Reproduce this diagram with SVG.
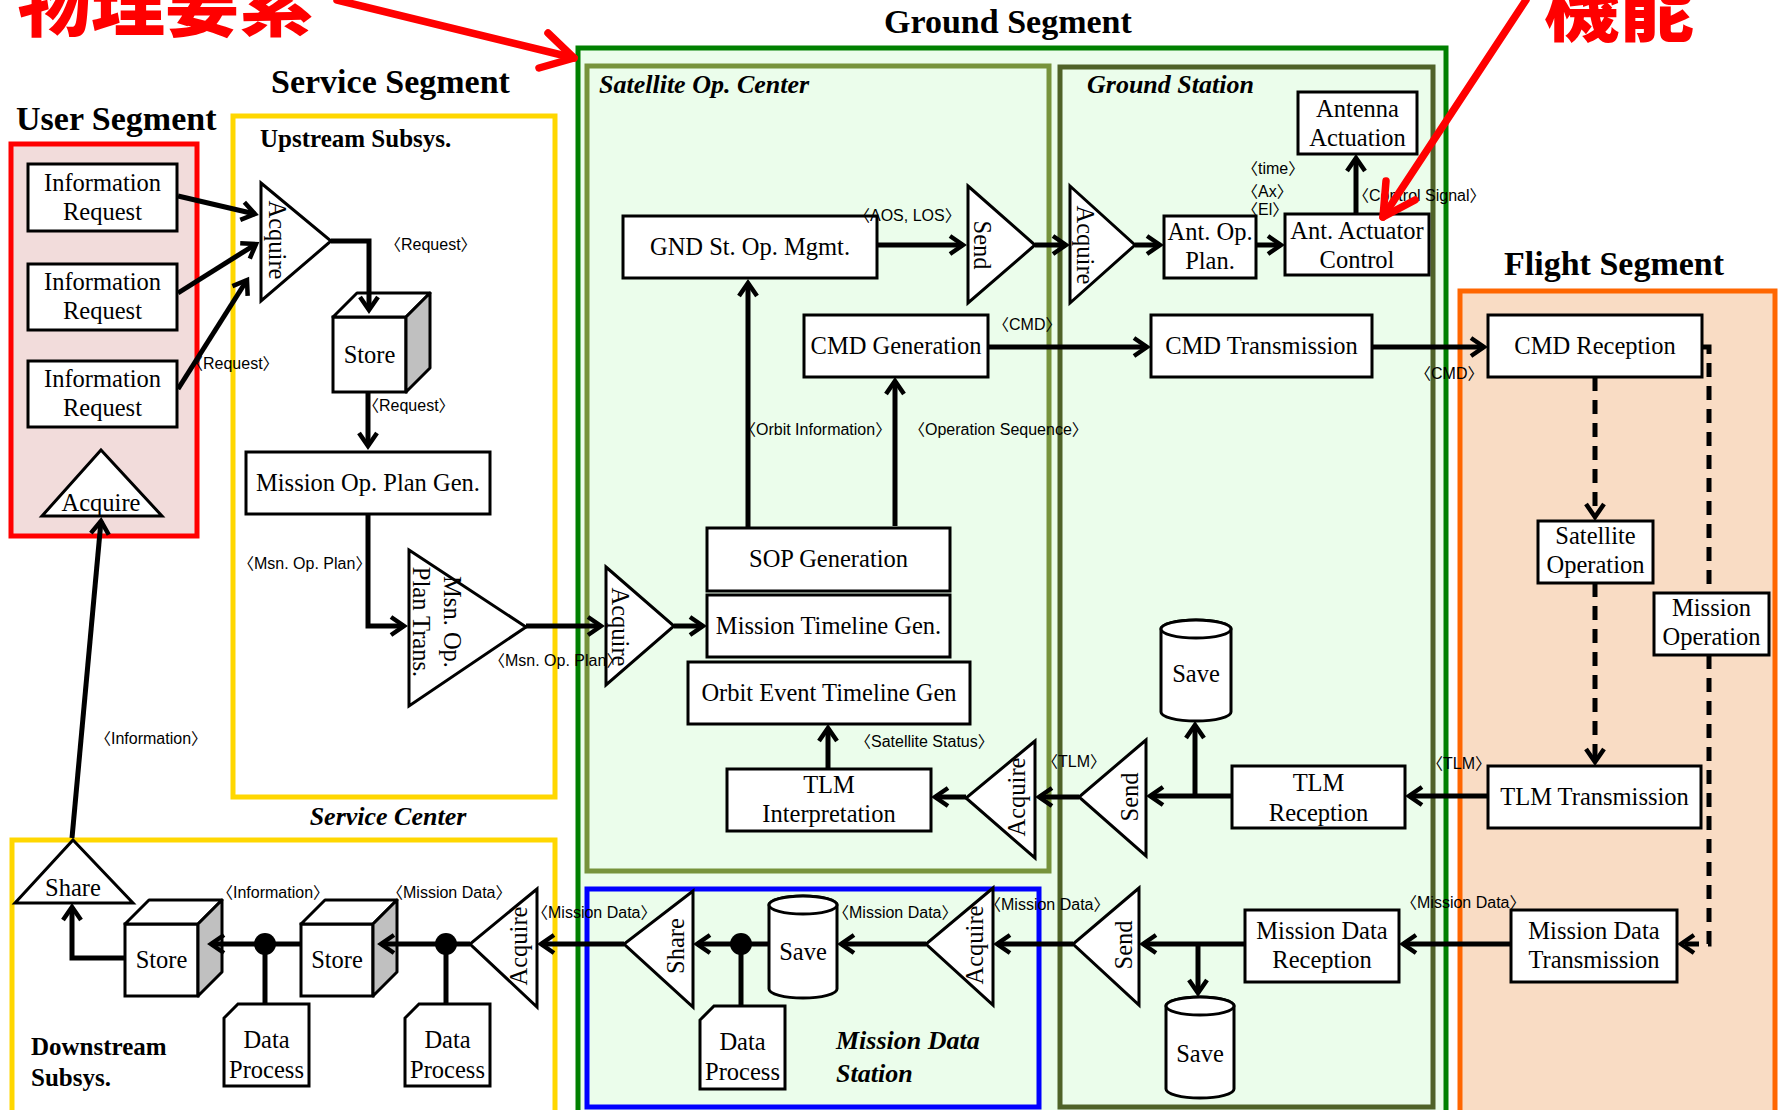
<svg xmlns="http://www.w3.org/2000/svg" width="1781" height="1110" viewBox="0 0 1781 1110">
<defs>
<style>
.bx{fill:#fff;stroke:#000;stroke-width:3}
.sd{fill:#c0c0c0;stroke:#000;stroke-width:3;stroke-linejoin:round}
.tp{fill:#fff;stroke:#000;stroke-width:3;stroke-linejoin:round}
.t{font-family:"Liberation Serif","Times New Roman",serif;font-size:24.5px;text-anchor:middle;fill:#000}
.l{font-family:"Liberation Sans",Arial,"Noto Sans CJK JP",sans-serif;font-size:16px;fill:#000}
.ttl{font-family:"Liberation Serif","Times New Roman",serif;font-weight:bold;font-size:34px;fill:#000}
.sub{font-family:"Liberation Serif","Times New Roman",serif;font-weight:bold;font-style:italic;font-size:26px;fill:#000}
.subb{font-family:"Liberation Serif","Times New Roman",serif;font-weight:bold;font-size:25px;fill:#000}
.c{fill:none;stroke:#000;stroke-width:5}
.a{marker-end:url(#ah)}
.d{stroke-dasharray:14 9}
.jp{font-family:"Noto Sans CJK JP",sans-serif;font-weight:900;fill:#f00}
.red{fill:none;stroke:#f00;stroke-width:7.5;stroke-linecap:round;stroke-linejoin:round}
.frame{stroke-width:5}
</style>
<marker id="ah" markerUnits="userSpaceOnUse" markerWidth="26" markerHeight="26" viewBox="0 0 26 26" refX="17" refY="13" orient="auto" overflow="visible">
<path d="M4,4 L17,13 L4,22" fill="none" stroke="#000" stroke-width="4.5" stroke-linejoin="miter"/>
</marker>
</defs>

<rect width="1781" height="1110" fill="#fff"/>

<!-- segment frames -->
<g id="ground-segment">
<rect class="frame" x="578" y="48" width="868" height="1075" fill="#ebfdeb" stroke="#008000"/>
<text class="ttl" x="884" y="33">Ground Segment</text>
</g>
<g id="satellite-op-center">
<rect class="frame" x="587" y="66" width="462" height="805" fill="none" stroke="#77933c"/>
<text class="sub" x="599" y="93">Satellite Op. Center</text>
</g>
<g id="ground-station">
<rect class="frame" x="1060" y="67" width="373" height="1040" fill="none" stroke="#4f6228"/>
<text class="sub" x="1087" y="93">Ground Station</text>
</g>
<g id="mission-data-station">
<rect class="frame" x="587" y="889" width="452" height="218" fill="none" stroke="#0000ff"/>
<text class="sub" x="836" y="1049" font-size="27">Mission Data</text>
<text class="sub" x="836" y="1082" font-size="27">Station</text>
</g>
<g id="user-segment">
<rect class="frame" x="11" y="144" width="186" height="392" fill="#f2dcdb" stroke="#f00"/>
<text class="ttl" x="16" y="130">User Segment</text>
</g>
<g id="service-segment">
<text class="ttl" x="271" y="93">Service Segment</text>
<rect class="frame" x="233" y="116" width="322" height="681" fill="#fff" stroke="#ffd700"/>
<text class="subb" x="260" y="147">Upstream Subsys.</text>
<text class="sub" x="388" y="825" text-anchor="middle">Service Center</text>
<rect class="frame" x="12" y="840" width="543" height="290" fill="#fff" stroke="#ffd700"/>
<text class="subb" x="31" y="1055">Downstream</text>
<text class="subb" x="31" y="1086">Subsys.</text>
</g>
<g id="flight-segment">
<rect class="frame" x="1460" y="291" width="315" height="840" fill="#f9dcc4" stroke="#ff6600"/>
<text class="ttl" x="1504" y="275">Flight Segment</text>
</g>

<!-- user segment nodes -->
<g id="info-request-1"><rect class="bx" x="28" y="164" width="149" height="67"/><text class="t" x="102.5" y="191">Information</text><text class="t" x="102.5" y="220">Request</text></g>
<g id="info-request-2"><rect class="bx" x="28" y="264" width="149" height="66"/><text class="t" x="102.5" y="290">Information</text><text class="t" x="102.5" y="319">Request</text></g>
<g id="info-request-3"><rect class="bx" x="28" y="361" width="149" height="66"/><text class="t" x="102.5" y="387">Information</text><text class="t" x="102.5" y="416">Request</text></g>
<g id="user-acquire"><polygon class="bx" points="101,450 162,516 42,516"/><text class="t" x="101" y="511">Acquire</text></g>

<!-- upstream subsystem nodes -->
<g id="up-acquire"><polygon class="bx" points="261,183 331,241 261,301"/><text class="t" transform="translate(269,240) rotate(90)">Acquire</text></g>
<g id="up-store">
<rect class="bx" x="333" y="317" width="73" height="75"/>
<polygon class="tp" points="333,317 357,293 430,293 406,317"/>
<polygon class="sd" points="406,317 430,293 430,368 406,392"/>
<text class="t" x="369.5" y="363">Store</text>
</g>
<g id="mission-op-plan-gen"><rect class="bx" x="246" y="452" width="244" height="62"/><text class="t" x="368" y="491">Mission Op. Plan Gen.</text></g>
<g id="msn-op-plan-trans"><polygon class="bx" points="409,550 526,627 409,706"/><text class="t" transform="translate(413,622) rotate(90)">Plan Trans.</text><text class="t" transform="translate(444,622) rotate(90)">Msn. Op.</text></g>

<!-- satellite operation center nodes -->
<g id="soc-acquire"><polygon class="bx" points="606,567 674,626 606,685"/><text class="t" transform="translate(612,627) rotate(90)">Acquire</text></g>
<g id="sop-generation"><rect class="bx" x="707" y="528" width="243" height="63"/><text class="t" x="828.5" y="567">SOP Generation</text></g>
<g id="mission-timeline-gen"><rect class="bx" x="707" y="595" width="243" height="62"/><text class="t" x="828.5" y="634">Mission Timeline Gen.</text></g>
<g id="orbit-event-timeline-gen"><rect class="bx" x="688" y="662" width="282" height="62"/><text class="t" x="829" y="701">Orbit Event Timeline Gen</text></g>
<g id="tlm-interpretation"><rect class="bx" x="727" y="769" width="204" height="62"/><text class="t" x="829" y="793">TLM</text><text class="t" x="829" y="822">Interpretation</text></g>
<g id="gnd-st-op-mgmt"><rect class="bx" x="623" y="216" width="254" height="62"/><text class="t" x="750" y="255">GND St. Op. Mgmt.</text></g>
<g id="cmd-generation"><rect class="bx" x="804" y="315" width="184" height="62"/><text class="t" x="896" y="354">CMD Generation</text></g>
<g id="soc-send"><polygon class="bx" points="968,186 1035,245 968,303"/><text class="t" transform="translate(974,245) rotate(90)">Send</text></g>
<g id="soc-acquire-tlm"><polygon class="bx" points="1035,741 966,798 1035,858"/><text class="t" transform="translate(1025,797) rotate(-90)">Acquire</text></g>

<!-- ground station nodes -->
<g id="gs-acquire"><polygon class="bx" points="1070,186 1135,245 1070,303"/><text class="t" transform="translate(1077,245) rotate(90)">Acquire</text></g>
<g id="ant-op-plan"><rect class="bx" x="1164" y="216" width="92" height="62"/><text class="t" x="1210" y="240">Ant. Op.</text><text class="t" x="1210" y="269">Plan.</text></g>
<g id="ant-actuator-control"><rect class="bx" x="1285" y="214" width="144" height="61"/><text class="t" x="1357" y="239">Ant. Actuator</text><text class="t" x="1357" y="268">Control</text></g>
<g id="antenna-actuation"><rect class="bx" x="1298" y="92" width="119" height="62"/><text class="t" x="1357.5" y="117">Antenna</text><text class="t" x="1357.5" y="146">Actuation</text></g>
<g id="cmd-transmission"><rect class="bx" x="1151" y="315" width="221" height="62"/><text class="t" x="1261.5" y="354">CMD Transmission</text></g>
<g id="tlm-reception"><rect class="bx" x="1232" y="766" width="173" height="62"/><text class="t" x="1318.5" y="791">TLM</text><text class="t" x="1318.5" y="821">Reception</text></g>
<g id="gs-save-tlm">
<path class="bx" d="M1161,629 A35,9 0 0 1 1231,629 V712 A35,9 0 0 1 1161,712 Z"/>
<ellipse class="bx" cx="1196" cy="629" rx="35" ry="9"/>
<text class="t" x="1196" y="682">Save</text>
</g>
<g id="gs-send-tlm"><polygon class="bx" points="1146,740 1079,797 1146,856"/><text class="t" transform="translate(1138,797) rotate(-90)">Send</text></g>
<g id="mission-data-reception"><rect class="bx" x="1245" y="910" width="154" height="72"/><text class="t" x="1322" y="939">Mission Data</text><text class="t" x="1322" y="968">Reception</text></g>
<g id="gs-send-md"><polygon class="bx" points="1139,888 1073,944 1139,1005"/><text class="t" transform="translate(1132,945) rotate(-90)">Send</text></g>
<g id="gs-save-md">
<path class="bx" d="M1166,1006 A34,9 0 0 1 1234,1006 V1089 A34,9 0 0 1 1166,1089 Z"/>
<ellipse class="bx" cx="1200" cy="1006" rx="34" ry="9"/>
<text class="t" x="1200" y="1062">Save</text>
</g>

<!-- mission data station nodes -->
<g id="mds-acquire"><polygon class="bx" points="993,888 926,944 993,1005"/><text class="t" transform="translate(983,945) rotate(-90)">Acquire</text></g>
<g id="mds-save">
<path class="bx" d="M769,905 A34,9 0 0 1 837,905 V989 A34,9 0 0 1 769,989 Z"/>
<ellipse class="bx" cx="803" cy="905" rx="34" ry="9"/>
<text class="t" x="803" y="960">Save</text>
</g>
<g id="mds-data-process"><path class="bx" d="M714,1006 H785 V1089 H700 V1020 Z"/><text class="t" x="742.5" y="1050">Data</text><text class="t" x="742.5" y="1080">Process</text></g>
<g id="mds-share"><polygon class="bx" points="693,891 624,944 693,1007"/><text class="t" transform="translate(684,946) rotate(-90)">Share</text></g>

<!-- downstream subsystem nodes -->
<g id="down-acquire"><polygon class="bx" points="537,889 470,944 537,1007"/><text class="t" transform="translate(527,946) rotate(-90)">Acquire</text></g>
<g id="down-store-2">
<rect class="bx" x="301" y="924" width="72" height="72"/>
<polygon class="tp" points="301,924 325,900 397,900 373,924"/>
<polygon class="sd" points="373,924 397,900 397,972 373,996"/>
<text class="t" x="337" y="968">Store</text>
</g>
<g id="down-data-process-2"><path class="bx" d="M419,1004 H490 V1086 H405 V1018 Z"/><text class="t" x="447.5" y="1048">Data</text><text class="t" x="447.5" y="1078">Process</text></g>
<g id="down-store-1">
<rect class="bx" x="125" y="924" width="73" height="72"/>
<polygon class="tp" points="125,924 149,900 222,900 198,924"/>
<polygon class="sd" points="198,924 222,900 222,972 198,996"/>
<text class="t" x="161.5" y="968">Store</text>
</g>
<g id="down-data-process-1"><path class="bx" d="M238,1004 H309 V1086 H224 V1018 Z"/><text class="t" x="266.5" y="1048">Data</text><text class="t" x="266.5" y="1078">Process</text></g>
<g id="down-share"><polygon class="bx" points="73,840 133,903 15,903"/><text class="t" x="73" y="896">Share</text></g>

<!-- flight segment nodes -->
<g id="cmd-reception"><rect class="bx" x="1488" y="315" width="214" height="62"/><text class="t" x="1595" y="354">CMD Reception</text></g>
<g id="satellite-operation"><rect class="bx" x="1538" y="521" width="115" height="62"/><text class="t" x="1595.5" y="544">Satellite</text><text class="t" x="1595.5" y="573">Operation</text></g>
<g id="mission-operation"><rect class="bx" x="1654" y="593" width="115" height="62"/><text class="t" x="1711.5" y="616">Mission</text><text class="t" x="1711.5" y="645">Operation</text></g>
<g id="tlm-transmission"><rect class="bx" x="1488" y="766" width="213" height="62"/><text class="t" x="1594.5" y="805">TLM Transmission</text></g>
<g id="mission-data-transmission"><rect class="bx" x="1511" y="910" width="166" height="72"/><text class="t" x="1594" y="939">Mission Data</text><text class="t" x="1594" y="968">Transmission</text></g>

<!-- connectors -->
<g id="connectors">
<path class="c a" d="M178,196 L255,214"/>
<path class="c a" d="M178,293 L256,244"/>
<path class="c a" d="M178,389 L247,280"/>
<path class="c a" d="M331,241 H369 V310"/>
<path class="c a" d="M368,392 V446"/>
<path class="c a" d="M368,514 V626 H404"/>
<path class="c a" d="M526,626 H601"/>
<path class="c a" d="M674,626 H703"/>
<path class="c a" d="M748,528 V283"/>
<path class="c a" d="M895,526 V381"/>
<path class="c a" d="M877,245 H963"/>
<path class="c a" d="M1035,245 H1066"/>
<path class="c a" d="M1135,245 H1160"/>
<path class="c a" d="M1256,245 H1281"/>
<path class="c a" d="M1356,214 V158"/>
<path class="c a" d="M988,347 H1147"/>
<path class="c a" d="M1372,347 H1484"/>
<path class="c d a" d="M1595,377 V517"/>
<path class="c d a" d="M1595,583 V762"/>
<path class="c d" d="M1702,347 H1709 V593"/>
<path class="c d a" d="M1709,655 V944 H1681"/>
<path class="c a" d="M1488,796 H1409"/>
<path class="c a" d="M1232,796 H1150"/>
<path class="c a" d="M1195,796 V725"/>
<path class="c a" d="M1079,797 H1039"/>
<path class="c a" d="M966,797 H935"/>
<path class="c a" d="M828,769 V728"/>
<path class="c a" d="M1511,944 H1403"/>
<path class="c a" d="M1245,944 H1143"/>
<path class="c a" d="M1198,944 V993"/>
<path class="c a" d="M1073,944 H997"/>
<path class="c a" d="M926,944 H841"/>
<path class="c a" d="M769,944 H697"/>
<path class="c" d="M741,944 V1006"/>
<path class="c a" d="M624,944 H541"/>
<path class="c a" d="M470,944 H381"/>
<path class="c" d="M446,944 V1004"/>
<path class="c a" d="M301,944 H211"/>
<path class="c" d="M265,944 V1004"/>
<path class="c a" d="M125,958 H72 V907"/>
<path class="c a" d="M72,838 L101,521"/>
<circle cx="741" cy="944" r="11"/>
<circle cx="446" cy="944" r="11"/>
<circle cx="265" cy="944" r="11"/>
</g>

<!-- flow labels -->
<g id="flow-labels">
<text class="l" x="187" y="369">〈Request〉</text>
<text class="l" x="385" y="250">〈Request〉</text>
<text class="l" x="363" y="411">〈Request〉</text>
<text class="l" x="238" y="569">〈Msn. Op. Plan〉</text>
<text class="l" x="489" y="666">〈Msn. Op. Plan〉</text>
<text class="l" x="95" y="744">〈Information〉</text>
<text class="l" x="217" y="898">〈Information〉</text>
<text class="l" x="387" y="898">〈Mission Data〉</text>
<text class="l" x="532" y="918">〈Mission Data〉</text>
<text class="l" x="833" y="918">〈Mission Data〉</text>
<text class="l" x="985" y="910">〈Mission Data〉</text>
<text class="l" x="1401" y="908">〈Mission Data〉</text>
<text class="l" x="1427" y="769">〈TLM〉</text>
<text class="l" x="1042" y="767">〈TLM〉</text>
<text class="l" x="855" y="747">〈Satellite Status〉</text>
<text class="l" x="740" y="435">〈Orbit Information〉</text>
<text class="l" x="909" y="435">〈Operation Sequence〉</text>
<text class="l" x="854" y="221">〈AOS, LOS〉</text>
<text class="l" x="993" y="330">〈CMD〉</text>
<text class="l" x="1415" y="379">〈CMD〉</text>
<text class="l" x="1242" y="174">〈time〉</text>
<text class="l" x="1242" y="197">〈Ax〉</text>
<text class="l" x="1242" y="215">〈El〉</text>
<text class="l" x="1353" y="201">〈Control Signal〉</text>
</g>

<!-- red annotations -->
<g id="annotation-physical">
<text class="jp" x="17" y="30" font-size="74">物理要素</text>
<path class="red" d="M337,0 L574,58"/>
<path class="red" d="M548,33 L574,58 L539,68"/>
</g>
<g id="annotation-function">
<text class="jp" x="1544" y="35" font-size="75">機能</text>
<path class="red" d="M1526,0 L1383,217"/>
<path class="red" d="M1386,181 L1383,217 L1415,200"/>
</g>
</svg>
